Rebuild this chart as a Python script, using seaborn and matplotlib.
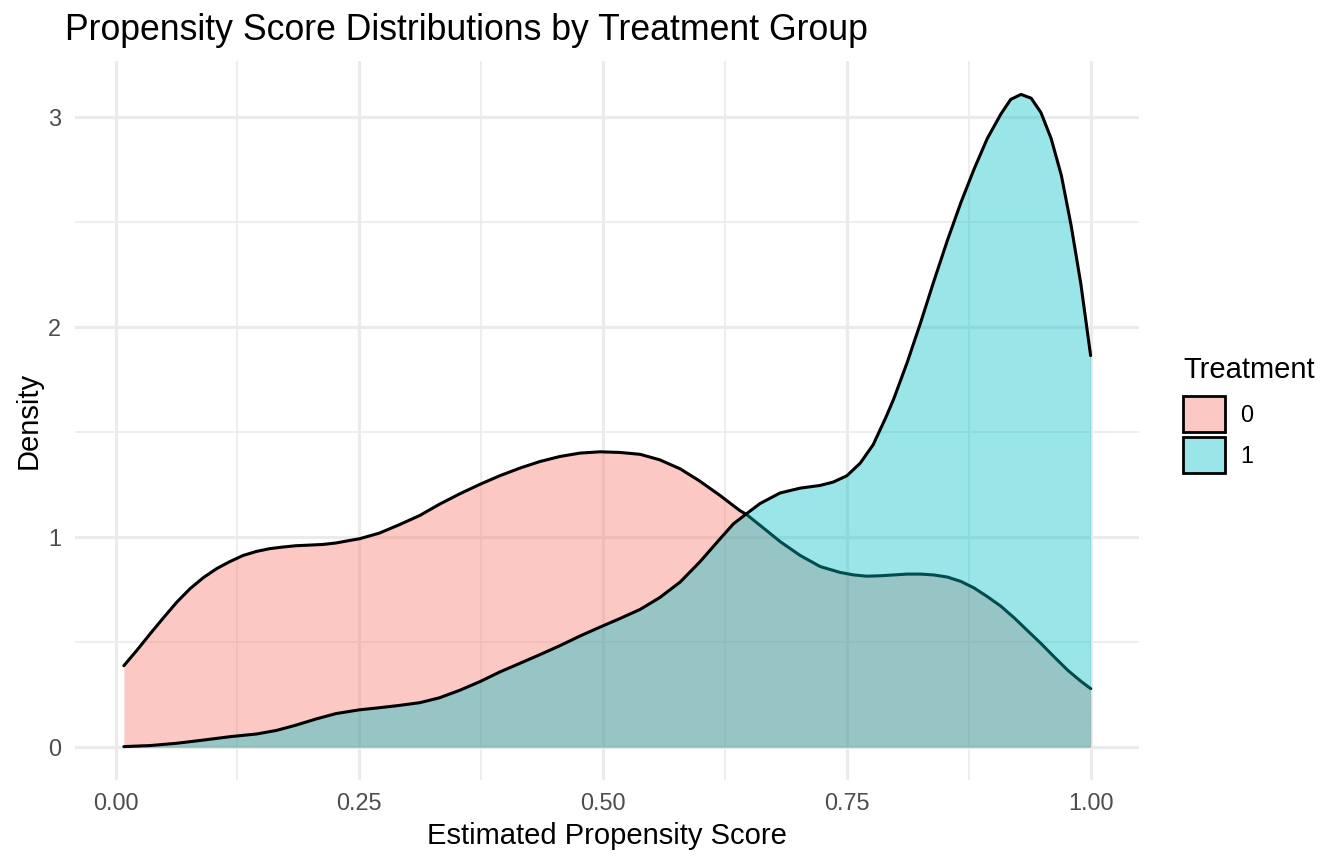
import numpy as np
import pandas as pd
import matplotlib
matplotlib.use('Agg')
import matplotlib.pyplot as plt
import matplotlib.colors as mcolors
import seaborn as sns
from matplotlib.patches import Patch

# density curves (x = propensity score, y = density)
x_ctrl = [0.0085, 0.022, 0.0357, 0.0493, 0.0629, 0.0765, 0.090, 0.1037, 0.117, 0.131,
          0.1446, 0.158, 0.172, 0.185, 0.199, 0.2126, 0.226, 0.240, 0.25, 0.2706,
          0.291, 0.312, 0.332, 0.353, 0.3736, 0.394, 0.415, 0.4354, 0.456, 0.4766,
          0.497, 0.517, 0.538, 0.558, 0.579, 0.599, 0.620, 0.640, 0.647, 0.661,
          0.6815, 0.702, 0.7226, 0.743, 0.757, 0.7706, 0.784, 0.798, 0.812, 0.8255,
          0.839, 0.853, 0.867, 0.8805, 0.894, 0.908, 0.922, 0.935, 0.949, 0.963,
          0.9766, 0.990, 1.0]
y_ctrl = [0.388, 0.462, 0.541, 0.617, 0.691, 0.755, 0.807, 0.850, 0.883, 0.913,
          0.932, 0.945, 0.953, 0.959, 0.962, 0.965, 0.972, 0.984, 0.992, 1.019,
          1.059, 1.103, 1.156, 1.206, 1.251, 1.292, 1.329, 1.360, 1.384, 1.400,
          1.406, 1.403, 1.394, 1.368, 1.325, 1.267, 1.198, 1.127, 1.108, 1.056,
          0.979, 0.913, 0.860, 0.832, 0.820, 0.814, 0.816, 0.820, 0.824, 0.824,
          0.820, 0.810, 0.789, 0.758, 0.717, 0.671, 0.614, 0.556, 0.494, 0.428,
          0.366, 0.314, 0.279]

x_trt = [0.0085, 0.0357, 0.063, 0.090, 0.117, 0.1446, 0.165, 0.185, 0.206, 0.226,
         0.25, 0.2706, 0.291, 0.312, 0.332, 0.353, 0.3736, 0.394, 0.415, 0.4354,
         0.456, 0.4766, 0.497, 0.517, 0.538, 0.558, 0.579, 0.599, 0.620, 0.6336,
         0.647, 0.661, 0.6815, 0.702, 0.7226, 0.736, 0.75, 0.7637, 0.777, 0.79,
         0.798, 0.812, 0.8255, 0.839, 0.853, 0.867, 0.8805, 0.894, 0.908, 0.918,
         0.9286, 0.939, 0.949, 0.9595, 0.970, 0.980, 0.990, 1.0]
y_trt = [0.003, 0.008, 0.019, 0.034, 0.050, 0.063, 0.080, 0.105, 0.135, 0.160,
         0.178, 0.188, 0.199, 0.212, 0.235, 0.271, 0.312, 0.358, 0.400, 0.441,
         0.484, 0.530, 0.572, 0.612, 0.656, 0.712, 0.786, 0.881, 0.992, 1.063,
         1.111, 1.160, 1.210, 1.233, 1.246, 1.262, 1.292, 1.352, 1.440, 1.570,
         1.657, 1.833, 2.019, 2.215, 2.411, 2.593, 2.752, 2.897, 3.014, 3.083,
         3.107, 3.089, 3.021, 2.897, 2.721, 2.483, 2.204, 1.864]

groups = ['0', '1']
fill_colors = ['#F8766D', '#00BFC4']

df = pd.concat([
    pd.DataFrame({'score': x_ctrl, 'density': y_ctrl, 'treat': '0'}),
    pd.DataFrame({'score': x_trt, 'density': y_trt, 'treat': '1'}),
])

sns.set_theme(style='white')
plt.rcParams['font.family'] = ['Liberation Sans', 'DejaVu Sans']
plt.rcParams['text.color'] = 'black'
plt.rcParams['axes.labelcolor'] = 'black'

fig = plt.figure(figsize=(13.44, 8.64), dpi=100)
ax = fig.add_axes([75 / 1344, 1 - 780 / 864, (1139 - 75) / 1344, (780 - 61) / 864])

# grid like theme_minimal
for v in [0.125, 0.375, 0.625, 0.875]:
    ax.axvline(v, color='#EBEBEB', lw=1.2, zorder=0)
for v in [0, 0.25, 0.5, 0.75, 1.0]:
    ax.axvline(v, color='#EBEBEB', lw=2.3, zorder=0)
for v in [0.5, 1.5, 2.5]:
    ax.axhline(v, color='#EBEBEB', lw=1.2, zorder=0)
for v in [0, 1, 2, 3]:
    ax.axhline(v, color='#EBEBEB', lw=2.3, zorder=0)

for i, g in enumerate(groups):
    sub = df[df['treat'] == g]
    ax.fill_between(sub['score'], 0, sub['density'], color=fill_colors[i],
                    alpha=0.4, lw=0, zorder=2 + 2 * i)
    sns.lineplot(data=sub, x='score', y='density', color='black', lw=2.2,
                 sort=False, ax=ax, zorder=3 + 2 * i)

ax.set_xlim(-0.0416, 1.0496)
ax.set_ylim(-0.156, 3.266)
ax.set_xticks([0, 0.25, 0.5, 0.75, 1.0])
ax.set_xticklabels(['0.00', '0.25', '0.50', '0.75', '1.00'])
ax.set_yticks([0, 1, 2, 3])
ax.tick_params(axis='both', labelsize=16.9, labelcolor='#4D4D4D', length=0)
ax.tick_params(axis='x', pad=9)
ax.tick_params(axis='y', pad=10)
for s in ax.spines.values():
    s.set_visible(False)

ax.set_xlabel('Estimated Propensity Score', fontsize=21, labelpad=5, color='black')
ax.set_ylabel('Density', fontsize=21, labelpad=4, color='black')
fig.text(65 / 1344, 1 - 31 / 864, 'Propensity Score Distributions by Treatment Group',
         fontsize=25.7, va='center', ha='left', color='black')

# legend
fig.text(1183 / 1344, 1 - 370 / 864, 'Treatment', fontsize=21, va='center', ha='left',
         color='black')
handles = [Patch(facecolor=mcolors.to_rgba(c, 0.4), edgecolor='black', lw=2.0)
           for c in fill_colors]
leg = fig.legend(handles, groups, loc='upper left',
                 bbox_to_anchor=(1183 / 1344, 1 - 396 / 864), frameon=False,
                 fontsize=16.9, handlelength=1.8, handleheight=2.0,
                 handletextpad=0.65, labelspacing=0.2, borderpad=0, borderaxespad=0)
for t in leg.get_texts():
    t.set_color('black')

fig.savefig('out.png', dpi=100)
